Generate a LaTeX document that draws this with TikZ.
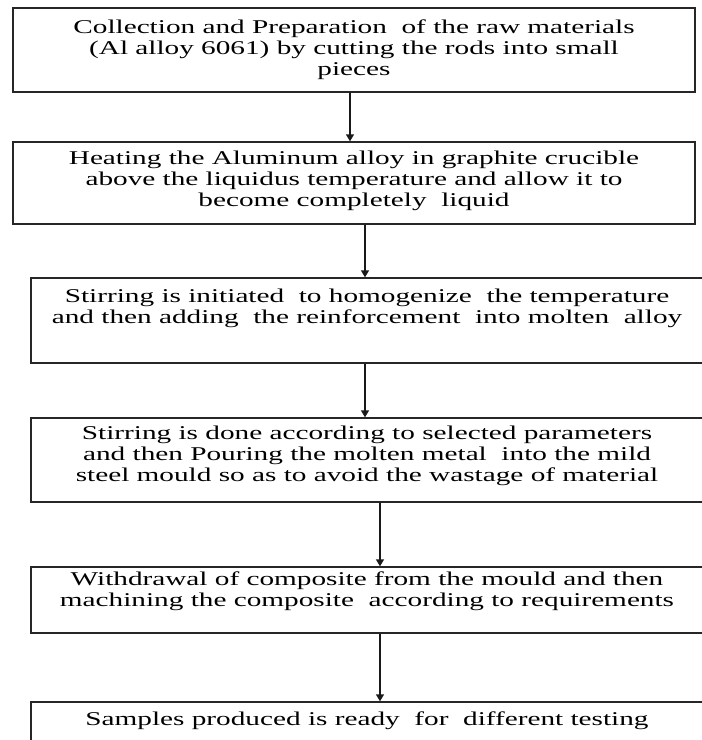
\documentclass[tikz,border=0pt]{standalone}
\usepackage{fontspec}
\setmainfont{Liberation Serif}
\usetikzlibrary{arrows.meta}
\newcommand{\wideline}[1]{\scalebox{1.5}[1]{\begin{tabular}{@{}c@{}}#1\end{tabular}}}
\begin{document}
\begin{tikzpicture}[x=1pt,y=-1pt,
  stepbox/.style={draw=black!85,line width=1.4pt,rectangle,inner sep=0pt},
  steptext/.style={anchor=north,inner sep=0pt,font=\fontsize{19.5}{21.3}\selectfont},
  arr/.style={draw=black!90,line width=1.4pt,-{Triangle[width=8pt,length=7pt]}}]
\useasboundingbox (0,0) rectangle (702,740);
\clip (0,0) rectangle (702,740);
% boxes
\node[stepbox,minimum width=682pt,minimum height=84pt] (b1) at (354,50) {};
\node[stepbox,minimum width=682pt,minimum height=82pt] (b2) at (354,183) {};
\node[stepbox,minimum width=672pt,minimum height=85pt] (b3) at (367,320.5) {};
\node[stepbox,minimum width=672pt,minimum height=84pt] (b4) at (367,460) {};
\node[stepbox,minimum width=672pt,minimum height=66pt] (b5) at (367,600) {};
\node[stepbox,minimum width=672pt,minimum height=80pt] (b6) at (367,742) {};
% texts
\node[steptext] (t1) at (354,18) {\wideline{Collection and Preparation\ \ of the raw materials\\(Al alloy 6061) by cutting the rods into small\\pieces}};
\node[steptext] (t2) at (354,149) {\wideline{Heating the Aluminum alloy in graphite crucible\\above the liquidus temperature and allow it to\\become completely\ \ liquid}};
\node[steptext] (t3) at (367,287) {\wideline{Stirring is initiated\ \ to homogenize\ \ the temperature\\and then adding\ \ the reinforcement\ \ into molten\ \ alloy}};
\node[steptext] (t4) at (367,424) {\wideline{Stirring is done according to selected parameters\\and then Pouring the molten metal\ \ into the mild\\steel mould so as to avoid the wastage of material}};
\node[steptext] (t5) at (367,570) {\wideline{Withdrawal of composite from the mould and then\\machining the composite\ \ according to requirements}};
\node[steptext] (t6) at (367,710) {\wideline{Samples produced is ready\ \ for\ \ different testing}};
% arrow columns
\coordinate (c1) at (350,0);
\coordinate (c2) at (365,0);
\coordinate (c3) at (380,0);
\draw[arr] (c1 |- b1.south) -- (c1 |- b2.north);
\draw[arr] (c2 |- b2.south) -- (c2 |- b3.north);
\draw[arr] (c2 |- b3.south) -- (c2 |- b4.north);
\draw[arr] (c3 |- b4.south) -- (c3 |- b5.north);
\draw[arr] (c3 |- b5.south) -- (c3 |- b6.north);
\end{tikzpicture}
\end{document}
